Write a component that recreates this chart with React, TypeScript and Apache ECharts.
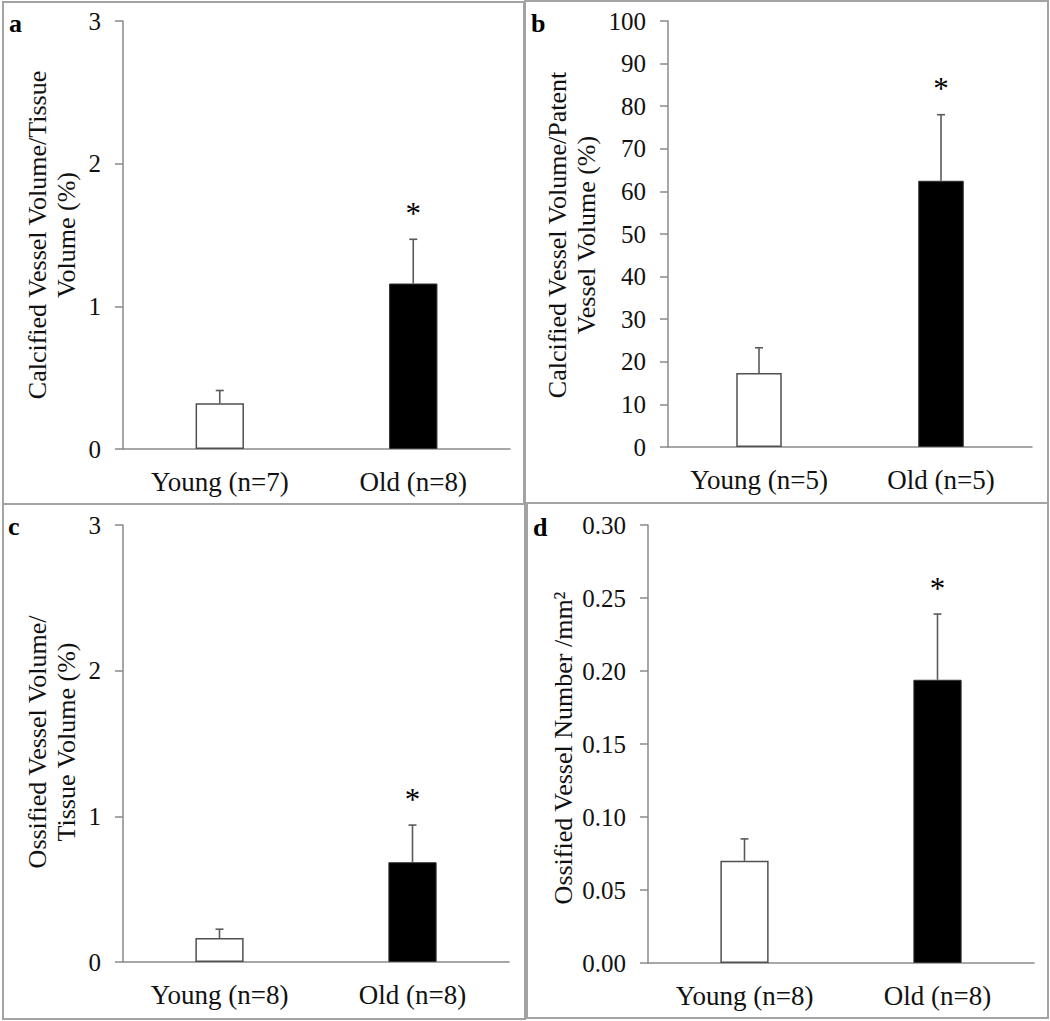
import React, { useEffect, useRef } from 'react';
import * as echarts from 'echarts';

// ---- Data ----
const catsA = ['Young (n=7)', 'Old (n=8)'];
const meanA = [0.32, 1.16];
const errTopA = [0.41, 1.47];

const catsB = ['Young (n=5)', 'Old (n=5)'];
const meanB = [17.4, 62.5];
const errTopB = [23.3, 78.0];

const catsC = ['Young (n=8)', 'Old (n=8)'];
const meanC = [0.165, 0.685];
const errTopC = [0.225, 0.94];

const catsD = ['Young (n=8)', 'Old (n=8)'];
const meanD = [0.07, 0.194];
const errTopD = [0.085, 0.239];

const stars = ['', '*'];

const yTitleA = 'Calcified Vessel Volume/Tissue\nVolume (%)';
const yTitleB = 'Calcified Vessel Volume/Patent\nVessel Volume (%)';
const yTitleC = 'Ossified Vessel Volume/\nTissue Volume (%)';
const yTitleD = 'Ossified Vessel Number /mm²';

const yMaxA = 3, yStepA = 1;
const yMaxB = 100, yStepB = 10;
const yMaxC = 3, yStepC = 1;
const yMaxD = 0.3, yStepD = 0.05;

const FONT = "'Liberation Serif', 'Times New Roman', serif";
const AXIS_COLOR = '#8a8a8a';
const BORDER_COLOR = '#a3a3a3';

export default function App() {
  const ref = useRef<HTMLDivElement>(null);

  useEffect(() => {
    if (!ref.current) return;
    const chart = echarts.init(ref.current, null, { renderer: 'svg' });

    const panels = [
      { cats: catsA, mean: meanA, err: errTopA, max: yMaxA, step: yStepA, dec: 0,
        grid: { left: 123, top: 21, width: 387, height: 428 } },
      { cats: catsB, mean: meanB, err: errTopB, max: yMaxB, step: yStepB, dec: 0,
        grid: { left: 668, top: 21, width: 364, height: 426 } },
      { cats: catsC, mean: meanC, err: errTopC, max: yMaxC, step: yStepC, dec: 0,
        grid: { left: 123, top: 525, width: 386, height: 437 } },
      { cats: catsD, mean: meanD, err: errTopD, max: yMaxD, step: yStepD, dec: 2,
        grid: { left: 648, top: 525, width: 386, height: 438 } },
    ];

    const grids = panels.map((p) => ({ ...p.grid, containLabel: false }));
    const xAxes = panels.map((p, i) => ({
      type: 'category',
      gridIndex: i,
      data: p.cats,
      axisTick: { show: false },
      axisLine: { show: true, lineStyle: { color: AXIS_COLOR, width: 1.5 } },
      axisLabel: { fontFamily: FONT, fontSize: 27, color: '#111', margin: 19 },
    }));
    const yAxes = panels.map((p, i) => ({
      type: 'value',
      gridIndex: i,
      min: 0,
      max: p.max,
      interval: p.step,
      splitLine: { show: false },
      axisLine: { show: true, lineStyle: { color: AXIS_COLOR, width: 1.5 } },
      axisTick: { show: true, length: 8, lineStyle: { color: AXIS_COLOR, width: 1.5 } },
      axisLabel: {
        fontFamily: FONT, fontSize: 25, color: '#111', margin: 22,
        formatter: (v: number) => v.toFixed(p.dec),
      },
    }));

    const series: any[] = [];
    panels.forEach((p, i) => {
      series.push({
        type: 'bar',
        xAxisIndex: i,
        yAxisIndex: i,
        barWidth: '25%',
        data: p.mean.map((v, j) => ({
          value: v,
          itemStyle: j === 0
            ? { color: '#ffffff', borderColor: '#505050', borderWidth: 1.5 }
            : { color: '#000000', borderColor: '#333', borderWidth: 1 },
        })),
      });
      series.push({
        type: 'custom',
        xAxisIndex: i,
        yAxisIndex: i,
        data: p.mean.map((v, j) => [j, v, p.err[j]]),
        encode: { x: 0, y: 1 },
        z: 5,
        renderItem: (params: any, api: any) => {
          const idx = api.value(0);
          const base = api.coord([idx, api.value(1)]);
          const top = api.coord([idx, api.value(2)]);
          const x = base[0];
          const lineStyle = { stroke: '#5a5a5a', lineWidth: 1.6 };
          const children: any[] = [
            { type: 'line', shape: { x1: x, y1: base[1], x2: x, y2: top[1] }, style: lineStyle },
            { type: 'line', shape: { x1: x - 4, y1: top[1], x2: x + 4, y2: top[1] }, style: lineStyle },
          ];
          const s = stars[idx];
          if (s) {
            children.push({
              type: 'text',
              x: x,
              y: top[1] - 26,
              style: {
                text: s, fontFamily: FONT, fontSize: 31, fill: '#000',
                align: 'center', verticalAlign: 'middle',
                textAlign: 'center', textVerticalAlign: 'middle',
              },
            });
          }
          return { type: 'group', children };
        },
      });
    });

    const rotTitle = (text: string, x: number, y: number) => ({
      type: 'text',
      x, y,
      rotation: Math.PI / 2,
      style: {
        text, fontFamily: FONT, fontSize: 26, lineHeight: 29, fill: '#111',
        align: 'center', verticalAlign: 'middle',
        textAlign: 'center', textVerticalAlign: 'middle',
      },
    });
    const letter = (text: string, x: number, y: number) => ({
      type: 'text',
      x, y,
      style: {
        text, fontFamily: FONT, fontSize: 26, fontWeight: 'bold', fill: '#000',
        align: 'left', verticalAlign: 'middle',
        textAlign: 'left', textVerticalAlign: 'middle',
      },
    });
    const border = (x: number, y: number, w: number, h: number) => ({
      type: 'rect',
      shape: { x, y, width: w, height: h },
      style: { fill: 'none', stroke: BORDER_COLOR, lineWidth: 2 },
      silent: true,
    });

    chart.setOption({
      animation: false,
      backgroundColor: '#ffffff',
      grid: grids,
      xAxis: xAxes,
      yAxis: yAxes,
      series,
      graphic: [
        border(3, 2, 521, 502),
        border(525, 1, 523, 502),
        border(3, 504, 522, 515),
        border(527, 503, 521, 515),
        letter('a', 9, 23),
        letter('b', 531, 23),
        letter('c', 8, 526),
        letter('d', 533, 527),
        rotTitle(yTitleA, 52, 235),
        rotTitle(yTitleB, 572, 235),
        rotTitle(yTitleC, 52, 742),
        rotTitle(yTitleD, 563, 748),
      ],
    });

    return () => chart.dispose();
  }, []);

  return (
    <div
      ref={ref}
      style={{ position: 'absolute', left: 0, top: 0, width: 1050, height: 1021, background: '#fff' }}
    />
  );
}
